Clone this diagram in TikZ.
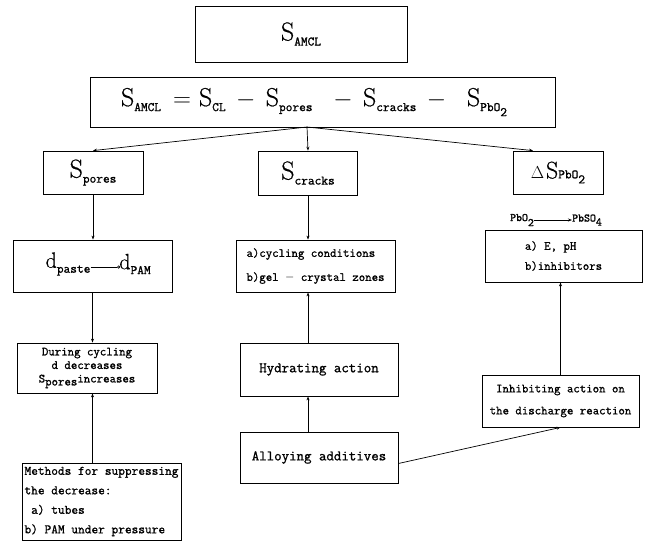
\documentclass[tikz,border=0pt]{standalone}
\usepackage{fontspec}
\usetikzlibrary{arrows.meta,calc}
\newfontfamily\tx[FakeBold=1.2]{Latin Modern Mono}
\newfontfamily\rmb[FakeBold=0.6]{Latin Modern Roman}
\newcommand{\bS}{{\fontsize{26}{28}\rmb S}}
\newcommand{\Sx}[1]{\bS\raisebox{-5pt}{\fontsize{13}{14}\tx #1}}
\newcommand{\tw}{\raisebox{-5pt}{2}}
\newcommand{\bop}[1]{{\fontsize{26}{28}\selectfont $#1$}}
\begin{document}
\begin{tikzpicture}[x=1pt,y=-1pt,
  box/.style={draw, line width=0.8pt, inner sep=0pt, align=center},
  arr/.style={line width=0.7pt, -{Stealth[length=4pt,width=3pt]}},
  ln/.style={line width=0.7pt}]
\useasboundingbox (0,0) rectangle (647,550);
\node[box, minimum width=212pt, minimum height=56pt] (top) at (301,34) {\Sx{AMCL}};
\node[box, minimum width=465pt, minimum height=50pt] (eq) at (322.5,102)
  {\hbox to 386pt{\Sx{AMCL}\hspace{12pt}\bop{=}\hspace{8pt}\Sx{CL}\hfill\bop{-}\hfill\Sx{pores}\hfill\hfill\bop{-}\hfill\Sx{cracks}\hfill\bop{-}\hfill\hfill\Sx{PbO\tw}}\hspace{17pt}};
\coordinate (ap) at (307,127);
\node[box, minimum width=100pt, minimum height=43pt] (pores) at (93,172.5) {\Sx{pores}};
\node[box, minimum width=99pt, minimum height=44pt] (cracks) at (308,173) {\Sx{cracks}};
\node[box, minimum width=90pt, minimum height=43pt] (dS) at (558,172.5)
  {{\fontsize{16}{18}\selectfont$\Delta$}\,{\fontsize{24}{26}\rmb S}{\fontsize{13}{14}\tx PbO\tw}};
% d_paste -> d_PAM
\node[box, minimum width=159pt, minimum height=52pt] (dp) at (92.5,266) {};
\node[inner sep=0pt] (dpa) at (68,264) {{\fontsize{22}{24}\rmb d}\raisebox{-5pt}{\fontsize{13}{14}\tx paste}};
\node[inner sep=0pt] (dpb) at (135,264) {{\fontsize{22}{24}\rmb d}\raisebox{-5pt}{\fontsize{13}{14}\tx PAM}};
\draw[ln, -{Circle[open,length=3pt]}] ([yshift=-3pt]dpa.east) -- ([yshift=-3pt,xshift=1pt]dpb.west);
% cracks column
\node[box, minimum width=159pt, minimum height=52pt, align=left,
  font=\fontsize{12.5}{24}\tx] (cyc) at (315.5,266)
  {a)cycling conditions\\b)gel $-$ crystal zones};
\node[box, minimum width=158pt, minimum height=53pt, font=\fontsize{14.5}{16}\tx] (hyd) at (319,369.5) {Hydrating action};
\node[box, minimum width=158pt, minimum height=51pt, font=\fontsize{14.5}{16}\tx] (all) at (319,457.5) {Alloying additives};
% PbO2 column
\node[inner sep=0pt, font=\fontsize{11.5}{13}\tx] (pbo) at (522,220) {PbO\tw};
\node[inner sep=0pt, font=\fontsize{11.5}{13}\tx] (pbs) at (587,220) {PbSO\raisebox{-4pt}{4}};
\draw[ln, -{Stealth[length=4pt,width=3pt]}] (pbo.east) -- (pbs.west);
\node[box, minimum width=157pt, minimum height=52pt, align=left,
  font=\fontsize{12.5}{20}\tx] (eph) at (563.5,256)
  {a) E, pH\\b)inhibitors};
\node[box, minimum width=157pt, minimum height=52pt,
  font=\fontsize{12.5}{22}\tx] (inh) at (560.5,401)
  {Inhibiting action on\\the discharge reaction};
% pores column
\node[box, minimum width=140pt, minimum height=50pt,
  font=\fontsize{12.5}{13.5}\tx] (dur) at (87,368)
  {During cycling\\d decreases\\S\raisebox{-3pt}{pores}increases};
\node[box, minimum width=159pt, minimum height=77pt, align=left,
  font=\fontsize{13}{19.5}\tx] (meth) at (101.5,501.5)
  {Methods for suppressing\\the decrease:\\\ a) tubes\\b) PAM under pressure};
% connectors
\draw[arr] (ap) -- (pores.north);
\draw[arr] (ap) -- (cracks.north);
\draw[arr] (ap) -- ([xshift=-25pt]dS.north);
\draw[arr] (pores.south) -- (pores.south |- dp.north);
\draw[arr] (dp.south) -- (dp.south |- dur.north);
\draw[arr] (meth.north -| dp.south) -- (dur.south -| dp.south);
\draw[arr] (cracks.south) -- (cracks.south |- cyc.north);
\draw[arr] (hyd.north -| cracks.south) -- (cyc.south -| cracks.south);
\draw[arr] (all.north -| cracks.south) -- (hyd.south -| cracks.south);
\draw[arr] ([yshift=-6pt]all.east) -- (inh.south);
\draw[arr] (inh.north) -- (inh.north |- eph.south);
\end{tikzpicture}
\end{document}
